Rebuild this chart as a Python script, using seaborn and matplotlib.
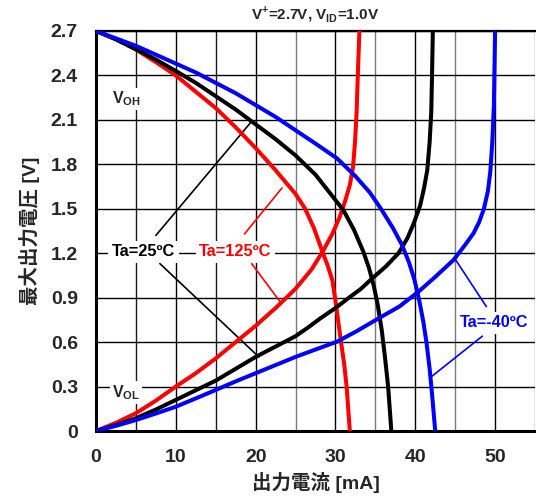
import matplotlib
matplotlib.use("Agg")
import matplotlib.pyplot as plt
import seaborn as sns
import pandas as pd

# Output current [mA] / maximum output voltage [V] for three ambient temperatures
voh_125_i = [0, 2.5, 5, 7.5, 10, 12.5, 15, 17.5, 20, 22.5, 25, 26.2, 27.3, 28.3, 29.0, 29.6,
             30.0, 30.4, 30.7, 31.1, 31.4, 31.6, 31.8]
voh_125_v = [2.7, 2.645, 2.575, 2.49, 2.40, 2.29, 2.18, 2.05, 1.91, 1.76, 1.60, 1.50, 1.37,
             1.22, 1.12, 1.02, 0.88, 0.72, 0.60, 0.45, 0.30, 0.15, 0.0]
vol_125_i = [0, 2.5, 5, 7.5, 10, 12.5, 15, 17.5, 20, 22.5, 25, 27, 28.5, 29.6, 30.5, 31.2,
             31.8, 32.2, 32.45, 32.65, 32.8, 33.0]
vol_125_v = [0, 0.055, 0.12, 0.205, 0.30, 0.39, 0.49, 0.60, 0.71, 0.83, 0.96, 1.09, 1.22,
             1.33, 1.44, 1.55, 1.66, 1.78, 1.95, 2.15, 2.40, 2.70]

voh_25_i = [0, 2.5, 5, 7.5, 10, 12.5, 15, 17.5, 20, 22.5, 25, 27.5, 29.4, 31.0, 32.3, 33.5,
            34.2, 34.8, 35.3, 35.8, 36.2, 36.6, 36.8, 37.0]
voh_25_v = [2.7, 2.643, 2.577, 2.507, 2.43, 2.35, 2.26, 2.17, 2.07, 1.97, 1.86, 1.73, 1.60,
            1.49, 1.36, 1.21, 1.10, 0.98, 0.85, 0.68, 0.50, 0.30, 0.15, 0.0]
vol_25_i = [0, 2.5, 5, 7.5, 10, 12.5, 15, 17.5, 20, 22.5, 25, 26.6, 28.1, 30, 31.7, 33.2,
            34.6, 36.3, 37.9, 39.0, 39.8, 40.6, 41.1, 41.5, 41.8, 42.0, 42.1, 42.2]
vol_25_v = [0, 0.04, 0.086, 0.145, 0.21, 0.275, 0.34, 0.42, 0.50, 0.57, 0.64, 0.70, 0.76,
            0.83, 0.90, 0.96, 1.03, 1.11, 1.20, 1.30, 1.40, 1.52, 1.64, 1.76, 1.95, 2.15,
            2.40, 2.70]

voh_m40_i = [0, 2.5, 5, 7.5, 10, 12.5, 15, 17.5, 20, 22.5, 25, 27.5, 30.2, 32.5, 34.3, 35.7,
             37.2, 38.3, 39.2, 39.9, 40.5, 41.0, 41.4, 41.8, 42.1, 42.5]
voh_m40_v = [2.7, 2.65, 2.60, 2.54, 2.48, 2.42, 2.35, 2.28, 2.20, 2.12, 2.03, 1.94, 1.84,
             1.72, 1.61, 1.50, 1.37, 1.26, 1.14, 1.02, 0.88, 0.74, 0.60, 0.42, 0.25, 0.0]
vol_m40_i = [0, 2.5, 5, 7.5, 10, 12.5, 15, 17.5, 20, 22.5, 25, 27.5, 30.2, 32.7, 35.2, 38.0,
             40.4, 42.5, 44.8, 46.3, 47.3, 48.0, 48.6, 49.1, 49.4, 49.65, 49.85, 50.0]
vol_m40_v = [0, 0.035, 0.074, 0.118, 0.164, 0.22, 0.277, 0.335, 0.39, 0.445, 0.50, 0.55,
             0.603, 0.675, 0.754, 0.84, 0.94, 1.04, 1.155, 1.26, 1.335, 1.41, 1.50, 1.62,
             1.75, 1.95, 2.20, 2.70]

x_ticks = [0, 10, 20, 30, 40, 50]
x_minor_ticks = [5, 15, 25, 35, 45, 55]
y_ticks = [0, 0.3, 0.6, 0.9, 1.2, 1.5, 1.8, 2.1, 2.4, 2.7]
y_tick_labels = ["0", "0.3", "0.6", "0.9", "1.2", "1.5", "1.8", "2.1", "2.4", "2.7"]

title = "V$^{\\mathbf{+}}$=2.7V, V$_{\\mathbf{ID}}$=1.0V"
x_label = "出力電流 [mA]"
y_label = "最大出力電圧 [V]"

# Temperature labels: text, position, colour, leader lines (start -> end on curve)
labels = [
    ("Ta=25ºC", 5.95, 1.21, "black", [((7.5, 1.32), (19.5, 2.09)), ((8.0, 1.13), (20.4, 0.50))]),
    ("Ta=125ºC", 17.45, 1.21, "#ff0000", [((18.6, 1.33), (23.3, 1.64)), ((19.5, 1.13), (23.1, 0.87))]),
    ("Ta=-40ºC", 49.9, 0.73, "#0000ff", [((48.9, 0.84), (45.0, 1.16)), ((48.4, 0.64), (42.1, 0.37))]),
]

sns.set_theme(style="white")
plt.rcParams["font.family"] = ["Liberation Sans", "Noto Sans CJK JP", "DejaVu Sans"]
plt.rcParams["mathtext.fontset"] = "custom"
plt.rcParams["mathtext.rm"] = "Liberation Sans"
plt.rcParams["mathtext.bf"] = "Liberation Sans:bold"

fig = plt.figure(figsize=(5.36, 5.0), dpi=100)
ax = fig.add_axes([96 / 536, 69 / 500, (535 - 96) / 536, 400 / 500])

curves = [
    (voh_125_i, voh_125_v, "#ff0000"), (vol_125_i, vol_125_v, "#ff0000"),
    (voh_25_i, voh_25_v, "black"), (vol_25_i, vol_25_v, "black"),
    (voh_m40_i, voh_m40_v, "#0000ff"), (vol_m40_i, vol_m40_v, "#0000ff"),
]
for xi, yi, col in curves:
    df = pd.DataFrame({"I": xi, "V": yi})
    sns.lineplot(data=df, x="I", y="V", sort=False, estimator=None, color=col,
                 linewidth=2.9, ax=ax, zorder=5)

ax.set_xlim(0, 55)
ax.set_ylim(0, 2.7)
ax.set_xticks(x_ticks)
ax.set_xticks(x_minor_ticks, minor=True)
ax.set_yticks(y_ticks)
ax.set_yticklabels(y_tick_labels)
ax.grid(True, which="major", color="black", linewidth=1.0, zorder=1)
ax.grid(True, which="minor", axis="x", color="#7a7a7a", linewidth=1.0, zorder=1)
# the first two minor grid lines are dark like the major ones
for tick in ax.xaxis.get_minor_ticks()[:2]:
    tick.gridline.set_color("#1a1a1a")
ax.set_axisbelow(True)
ax.tick_params(axis="both", which="both", length=0, labelsize=14, pad=13)
for lbl in ax.get_xticklabels() + ax.get_yticklabels():
    lbl.set_fontweight("bold")

for side in ["left", "bottom"]:
    ax.spines[side].set_linewidth(2.2)
    ax.spines[side].set_color("black")
ax.spines["top"].set_linewidth(1.6)
ax.spines["top"].set_color("black")
ax.spines["right"].set_visible(False)

ax.set_xlabel(x_label, fontsize=14, fontweight="bold", labelpad=4)
ax.set_ylabel(y_label, fontsize=14, fontweight="bold", labelpad=8)
ax.set_title(title, fontsize=11, fontweight="bold", pad=8, x=0.5)

box = dict(facecolor="white", edgecolor="none", pad=1.5)
ax.text(1.97, 2.21, r"$\mathbf{V}_{\mathbf{OH}}$", fontsize=11.5, ha="left", va="baseline",
        bbox=box, zorder=3)
ax.text(1.97, 0.23, r"$\mathbf{V}_{\mathbf{OL}}$", fontsize=11.5, ha="left", va="baseline",
        bbox=box, zorder=3)

for text, tx, ty, col, leaders in labels:
    for (x0, y0), (x1, y1) in leaders:
        ax.plot([x0, x1], [y0, y1], color=col, linewidth=1.2, zorder=4)
    ax.text(tx, ty, text, fontsize=11.8, fontweight="bold", color=col, ha="center",
            va="center", bbox=dict(facecolor="white", edgecolor="none", pad=2.5), zorder=4)

fig.savefig("out.png", dpi=100)
